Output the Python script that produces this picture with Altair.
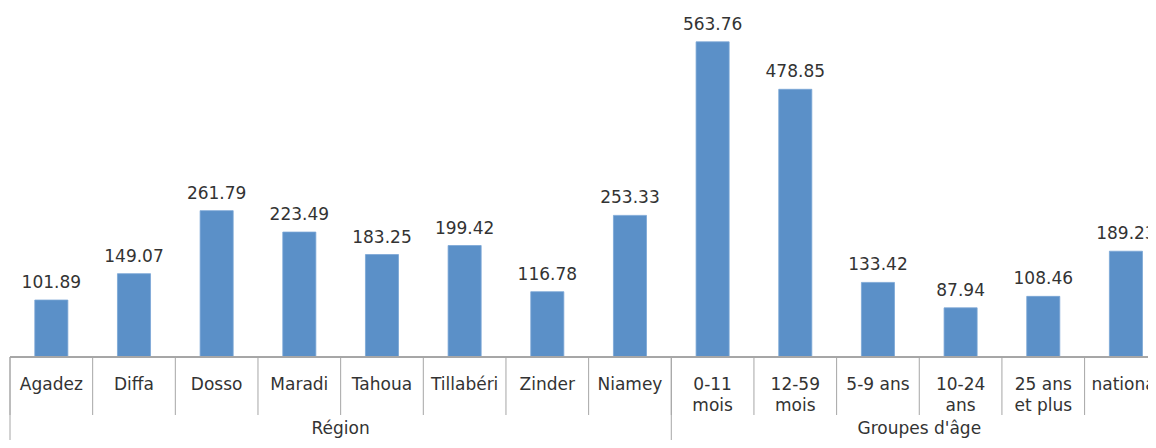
import altair as alt
import pandas as pd

categories = ["Agadez", "Diffa", "Dosso", "Maradi", "Tahoua", "Tillabéri", "Zinder", "Niamey",
              "0-11\nmois", "12-59\nmois", "5-9 ans", "10-24\nans", "25 ans\net plus", "national"]
values = [101.89, 149.07, 261.79, 223.49, 183.25, 199.42, 116.78, 253.33,
          563.76, 478.85, 133.42, 87.94, 108.46, 189.23]
groups = ["Région"] * 8 + ["Groupes d'âge"] * 6

df = pd.DataFrame({"idx": range(len(categories)), "cat": categories, "val": values, "grp": groups})
g = df.groupby("grp", sort=False)["idx"].agg(["min", "max"]).reset_index()
g["lo"] = g["min"]
g["hi"] = g["max"] + 1
g["mid"] = (g["lo"] + g["hi"]) / 2

W, H = 1138, 349
PB = 83
FONT = "DejaVu Sans"
TXT = "#333333"
LINE = "#a6a6a6"

xs = alt.Scale(domain=[0, 13.767], nice=False, zero=False)
ys = alt.Scale(domain=[0, 624.3], nice=False)

base = alt.Chart(df)

bars = base.transform_calculate(x0="datum.idx + 0.3", x1="datum.idx + 0.7").mark_bar(
    color="#5b90c8", stroke="#7aa6d6", strokeWidth=0.8, clip=True
).encode(
    x=alt.X("x0:Q", scale=xs, axis=None),
    x2="x1:Q",
    y=alt.Y("val:Q", scale=ys, axis=None),
    y2=alt.datum(0),
)

vlabels = base.transform_calculate(xc="datum.idx + 0.5").mark_text(
    font=FONT, fontSize=17, color=TXT, baseline="alphabetic", dy=-12
).encode(
    x=alt.X("xc:Q", scale=xs),
    y=alt.Y("val:Q", scale=ys),
    text=alt.Text("val:Q", format=".2f"),
)

clabels = base.transform_calculate(xc="datum.idx + 0.5").mark_text(
    font=FONT, fontSize=17, color=TXT, baseline="alphabetic", lineBreak="\n", lineHeight=21
).encode(
    x=alt.X("xc:Q", scale=xs),
    y=alt.value(H + 33),
    text="cat:N",
)

axis_line = base.mark_rule(color=LINE, strokeWidth=1).encode(
    x=alt.value(0), x2=alt.value(W), y=alt.value(H)
)

seps = base.mark_rule(color=LINE, strokeWidth=1).encode(
    x=alt.X("idx:Q", scale=xs),
    y=alt.value(H),
    y2=alt.value(H + 58),
)

gseps = alt.Chart(g).mark_rule(color=LINE, strokeWidth=1).encode(
    x=alt.X("lo:Q", scale=xs),
    y=alt.value(H),
    y2=alt.value(H + PB),
)

glabels = alt.Chart(g).mark_text(
    font=FONT, fontSize=17, color=TXT, baseline="alphabetic"
).encode(
    x=alt.X("mid:Q", scale=xs),
    y=alt.value(H + 77),
    text="grp:N",
)

chart = alt.layer(bars, vlabels, axis_line, seps, gseps, clabels, glabels).properties(
    width=W, height=H,
    padding={"left": 2, "top": 0, "right": 0, "bottom": PB},
    autosize=alt.AutoSizeParams(type="none"),
).configure_view(stroke=None)

chart.save("out.html", embed_options={"renderer": "svg", "actions": False})
